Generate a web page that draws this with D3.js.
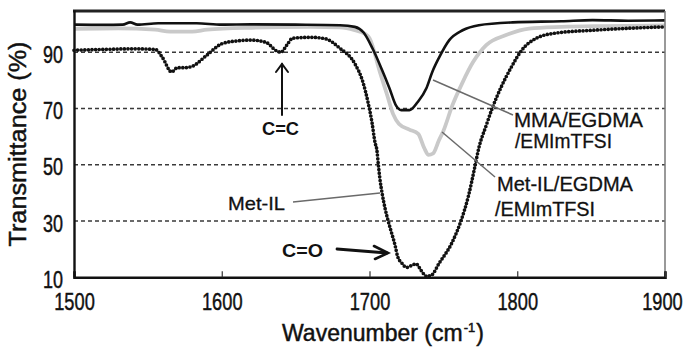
<!DOCTYPE html>
<html>
<head>
<meta charset="utf-8">
<script src="https://cdn.jsdelivr.net/npm/d3@7"></script>
<style>
  html, body { margin: 0; padding: 0; background: #fff; }
  svg { display: block; }
</style>
</head>
<body>
<div id="chart"></div>
<script>
// ---------- data ----------
const xTicks = [1500, 1600, 1700, 1800, 1900];
const yTicks = [10, 30, 50, 70, 90];

// MMA/EGDMA/EMImTFSI (black solid)
const mmaWn = [1500, 1520, 1533, 1538, 1543, 1557, 1570, 1583, 1600, 1620, 1650, 1680, 1690, 1696,
  1702, 1708, 1713.5, 1718, 1721.5, 1727, 1732.5, 1738.5, 1742.5, 1747, 1754, 1763, 1774, 1797, 1830, 1851, 1875, 1900];
const mmaT = [99.8, 99.7, 99.8, 100.6, 99.8, 100.3, 100.3, 100.3, 99.8, 99.9, 99.8, 99.6, 99.0, 97.0,
  91.4, 84.3, 77.2, 71.0, 69.4, 69.4, 72.2, 77.2, 83.0, 88.0, 94.3, 97.8, 99.6, 100.6, 101.0, 101.4, 101.2, 101.3];

// Met-IL/EGDMA/EMImTFSI (light grey)
const gelWn = [1500, 1530, 1555, 1565, 1580, 1590, 1620, 1660, 1680, 1690, 1697, 1700, 1707, 1712, 1716,
  1720, 1727, 1733, 1737, 1740, 1743, 1747, 1750, 1756, 1763, 1770, 1779, 1792, 1808, 1830, 1860, 1900];
const gelT = [98.3, 98.5, 98.0, 97.3, 97.3, 98.0, 98.7, 99.0, 98.8, 97.8, 96.5, 95.0, 83.0, 74.7, 68.0,
  64.5, 62.5, 61.0, 56.0, 53.5, 54.0, 58.7, 62.0, 71.0, 79.3, 86.4, 92.5, 96.0, 98.4, 99.0, 99.3, 99.5];

// Met-IL (black dotted)
const metWn = [1500, 1520, 1540, 1555, 1560, 1566, 1570, 1575, 1580, 1590, 1600, 1610, 1620, 1630, 1637,
  1640, 1644, 1648, 1660, 1670, 1680, 1690, 1695.6, 1699, 1701.7, 1703.7, 1705, 1706, 1707, 1708.5, 1710.5,
  1712.5, 1715, 1717.3, 1719, 1722, 1725, 1728.5, 1731.5, 1735, 1738.5, 1742, 1747, 1756, 1762, 1767, 1771,
  1774, 1779, 1783, 1789, 1796, 1803, 1813, 1826, 1851, 1875, 1900];
const metT = [90.7, 91.0, 91.2, 91.0, 88.0, 83.0, 84.5, 84.5, 85.0, 89.0, 93.0, 94.0, 94.3, 93.5, 90.5,
  90.0, 92.5, 95.0, 95.3, 94.8, 91.4, 86.0, 79.3, 72.2, 65.0, 58.0, 55.2, 50.0, 45.2, 40.0, 34.6,
  30.3, 25.7, 21.4, 17.5, 15.0, 13.5, 14.2, 14.8, 12.4, 10.4, 10.8, 14.9, 22.5, 30.2, 39.0, 48.5,
  56.0, 64.0, 70.0, 77.5, 84.7, 90.7, 95.0, 96.8, 97.8, 98.5, 99.0];

// ---------- layout ----------
const W = 688, H = 350;
const svg = d3.select("#chart").append("svg").attr("width", W).attr("height", H)
  .style("background", "#fff");

const x = d3.scaleLinear().domain([1500, 1900]).range([74, 665]);
const y = d3.scaleLinear().domain([10, 105]).range([277.3, 10]);

const FONT = "'Liberation Sans', Arial, sans-serif";
const thicken = sel => sel.attr("stroke", "#111").attr("stroke-width", 0.45).attr("paint-order", "stroke");

// gridlines
svg.append("g").selectAll("line").data([30, 50, 70, 90]).join("line")
  .attr("x1", x(1500)).attr("x2", x(1900))
  .attr("y1", d => y(d)).attr("y2", d => y(d))
  .attr("stroke", "#3a3a3a").attr("stroke-width", 1.4).attr("stroke-dasharray", "4,3");

// curves
const line = d3.line().x(d => x(d[0])).y(d => y(d[1])).curve(d3.curveMonotoneX);
const zipS = (a, b) => a.map((v, i) => [v, b[i]]);

svg.append("path").datum(zipS(gelWn, gelT)).attr("d", line)
  .attr("fill", "none").attr("stroke", "#c9c9c9").attr("stroke-width", 3.8).attr("stroke-linejoin", "round");

svg.append("path").datum(zipS(mmaWn, mmaT)).attr("d", line)
  .attr("fill", "none").attr("stroke", "#111").attr("stroke-width", 2.6).attr("stroke-linejoin", "round");

svg.append("path").datum(zipS(metWn, metT)).attr("d", line)
  .attr("fill", "none").attr("stroke", "#111").attr("stroke-width", 3.7)
  .attr("stroke-linecap", "round").attr("stroke-dasharray", "0,3.6");

// frame: top thick, right thin grey
svg.append("line").attr("x1", 73).attr("x2", 665).attr("y1", 11).attr("y2", 11)
  .attr("stroke", "#222").attr("stroke-width", 3);
svg.append("line").attr("x1", 665).attr("x2", 665).attr("y1", 11).attr("y2", 277)
  .attr("stroke", "#777").attr("stroke-width", 1.5);

// x axis
const xAxis = svg.append("g").attr("transform", `translate(0,${y(10)})`)
  .call(d3.axisBottom(x).tickValues(xTicks).tickSize(-6).tickFormat(d3.format("d")));
xAxis.select(".domain").attr("stroke", "#111").attr("stroke-width", 2.6);
xAxis.selectAll(".tick line").attr("stroke", "#333").attr("stroke-width", 1.2);
xAxis.selectAll(".tick text").attr("y", 33).attr("dy", null)
  .attr("font-family", FONT).attr("font-size", 24).attr("fill", "#111")
  .attr("x", d => d === 1900 ? -4 : 0)
  .attr("transform", "scale(0.76,1)")
  .call(thicken);

// y axis
const yAxis = svg.append("g").attr("transform", `translate(${x(1500)},0)`)
  .call(d3.axisLeft(y).tickValues(yTicks).tickSize(0).tickFormat(d3.format("d")));
yAxis.select(".domain").attr("stroke", "#111").attr("stroke-width", 2.4);
yAxis.selectAll(".tick text").attr("x", -11).attr("y", 10).attr("dy", null)
  .attr("font-family", FONT).attr("font-size", 23).attr("fill", "#111")
  .attr("textLength", 20).attr("lengthAdjust", "spacingAndGlyphs")
  .call(thicken);

// axis titles
const xt = svg.append("g").attr("font-family", FONT).attr("fill", "#111");
const xtMain = xt.append("text").attr("x", 282).attr("y", 341).attr("font-size", 23)
  .text("Wavenumber (cm").call(thicken);
const wMain = xtMain.node().getComputedTextLength();
const xtSup = xt.append("text").attr("x", 282 + wMain + 1).attr("y", 332).attr("font-size", 13)
  .text("-1").call(thicken);
const wSup = xtSup.node().getComputedTextLength();
xt.append("text").attr("x", 282 + wMain + wSup + 2).attr("y", 341).attr("font-size", 23)
  .text(")").call(thicken);

svg.append("text").attr("transform", "translate(26,144) rotate(-90)").attr("text-anchor", "middle")
  .attr("font-family", FONT).attr("font-size", 23).attr("fill", "#111")
  .attr("textLength", 205).attr("lengthAdjust", "spacingAndGlyphs")
  .text("Transmittance (%)").call(thicken);

// annotations
const ann = svg.append("g").attr("font-family", FONT).attr("fill", "#111");
function label(txt, xx, yy, len, size, bold) {
  const t = ann.append("text").attr("x", xx).attr("y", yy).attr("font-size", size)
    .attr("font-weight", bold ? "bold" : "normal")
    .attr("textLength", len).attr("lengthAdjust", "spacingAndGlyphs").text(txt);
  if (!bold) t.attr("stroke", "#111").attr("stroke-width", 0.3);
}
label("MMA/EGDMA", 514, 127, 129, 20);
label("/EMImTFSI", 515, 148, 97, 20);
label("Met-IL/EGDMA", 497, 191, 136, 20);
label("/EMImTFSI", 495, 216, 100, 20);
label("Met-IL", 228, 210, 57, 19);
label("C=C", 262, 135, 37, 18, true);
label("C=O", 282, 257, 41, 19, true);

// leader lines
const leaders = [[293, 202, 380, 193], [433, 80, 513, 115], [442, 132, 495, 177]];
svg.append("g").selectAll("line").data(leaders).join("line")
  .attr("x1", d => d[0]).attr("y1", d => d[1]).attr("x2", d => d[2]).attr("y2", d => d[3])
  .attr("stroke", "#6a6a6a").attr("stroke-width", 1.5);

// arrows
const arr = svg.append("g").attr("fill", "none").attr("stroke", "#111").attr("stroke-linecap", "round");
arr.append("line").attr("x1", 282).attr("y1", 115).attr("x2", 282).attr("y2", 64).attr("stroke-width", 2);
arr.append("path").attr("d", "M276,72 L282,64 L288,72").attr("stroke-width", 2);
arr.append("line").attr("x1", 337).attr("y1", 249).attr("x2", 387).attr("y2", 253).attr("stroke-width", 2.8);
arr.append("path").attr("d", "M374,246 L388,253 L375,259").attr("stroke-width", 2.6);
</script>
</body>
</html>
